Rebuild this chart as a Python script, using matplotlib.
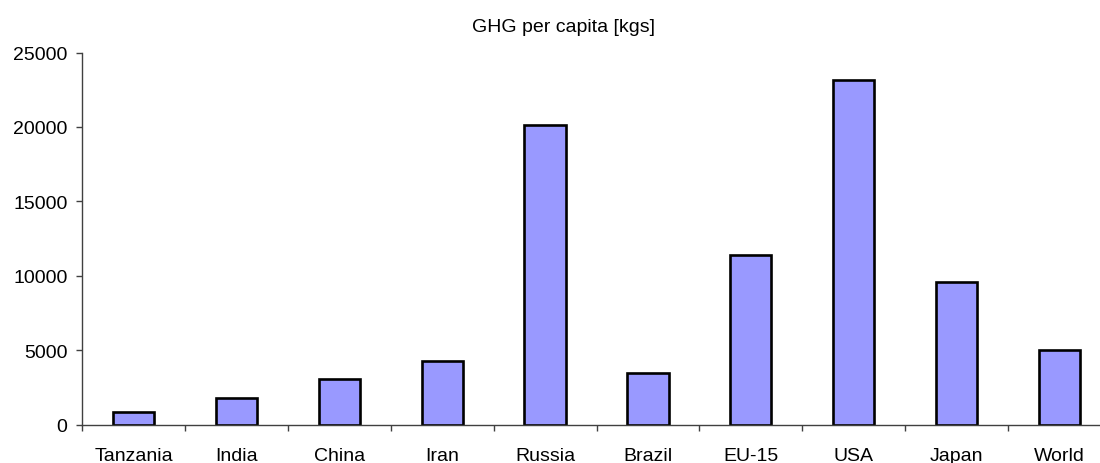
import matplotlib
matplotlib.use("Agg")
import matplotlib.pyplot as plt
import numpy as np

plt.rcParams['font.family'] = ['Liberation Sans', 'DejaVu Sans']

paises = ["Tanzania", "India", "China", "Iran", "Russia",
          "Brazil", "EU-15", "USA", "Japan", "World"]
ghg = [850, 1780, 3060, 4270, 20130, 3460, 11370, 23150, 9580, 5030]
y_ticks = [0, 5000, 10000, 15000, 20000, 25000]

fig = plt.figure(figsize=(11, 4.64), dpi=100)
# eixo vai um pouco alem da borda direita, como no original
ax = fig.add_axes([82 / 1100, 38.5 / 464, 1029 / 1100, 372 / 464])

x = np.arange(len(paises))
ax.bar(x, ghg, width=0.4, color="#9999ff", edgecolor="black", linewidth=1.9)

ax.set_xlim(-0.5, len(paises) - 0.5)
ax.set_ylim(0, 25000)
ax.set_yticks(y_ticks)
ax.set_yticklabels([str(v) for v in y_ticks])

ax.set_xticks(x)
ax.set_xticklabels(paises)
ax.set_xticks(np.arange(len(paises) + 1) - 0.5, minor=True)
ax.tick_params(axis="x", which="major", length=0, pad=16, labelsize=14)
ax.tick_params(axis="x", which="minor", length=4.5, width=1, color="#404040",
               direction="out")
ax.tick_params(axis="y", length=4.5, width=1, color="#404040", pad=6, labelsize=14)

for lado in ["top", "right"]:
    ax.spines[lado].set_visible(False)
for lado in ["left", "bottom"]:
    ax.spines[lado].set_color("#404040")
    ax.spines[lado].set_linewidth(1)

fig.text(564 / 1100, 1 - 27 / 464, "GHG per capita [kgs]",
         ha="center", va="center", fontsize=14)

fig.savefig("out.png", dpi=100)
